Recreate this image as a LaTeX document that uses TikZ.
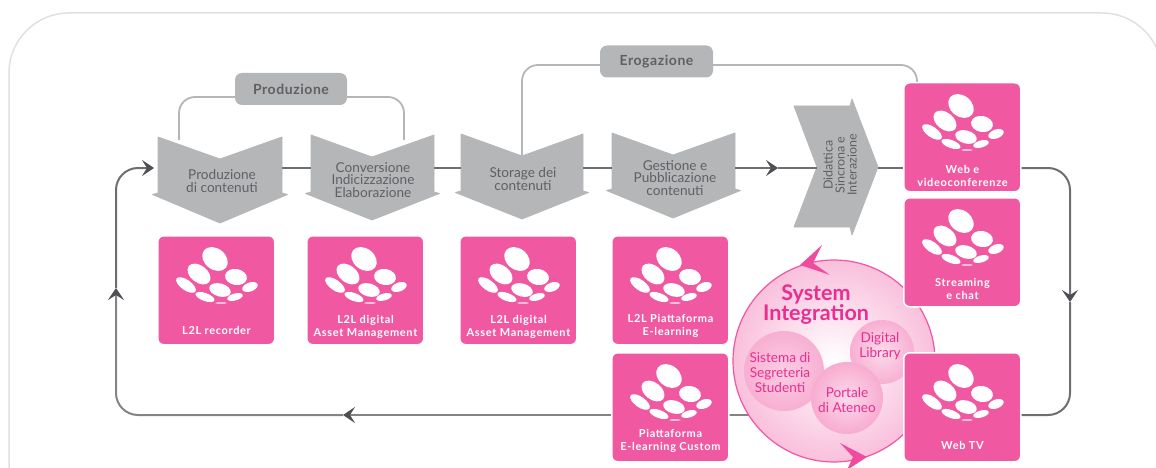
\documentclass[tikz,border=0pt]{standalone}
\usepackage{fontspec}
\setmainfont{Lato}
\usetikzlibrary{arrows.meta,shapes.geometric}
\definecolor{pinkbox}{HTML}{F058A2}
\definecolor{greybox}{HTML}{B5B6B8}
\definecolor{greytext}{HTML}{5F6064}
\definecolor{flowgrey}{HTML}{6D6E71}
\definecolor{tipgrey}{HTML}{4E4F53}
\definecolor{magenta2}{HTML}{EC2C8E}
\tikzset{
  card/.style={fill=pinkbox,draw=white,line width=1.5pt,rounded corners=6pt,anchor=north west,inner sep=0pt},
  cardtext/.style={text=white,font=\fontsize{11}{12.5}\selectfont\bfseries\addfontfeature{LetterSpace=6},align=center,inner sep=0pt},
  chev/.style={fill=greybox,draw=greybox,line width=.8pt,line join=round},
  chevtext/.style={text=greytext,font=\fontsize{13.6}{12.5}\selectfont,align=center,inner sep=0pt},
  group/.style={fill=greybox,rounded corners=7pt,text=greytext,font=\fontsize{14}{16}\selectfont\bfseries\addfontfeature{LetterSpace=4},inner sep=0pt,minimum height=32pt},
  bracket/.style={draw=greybox,line width=1.8pt,rounded corners=16pt},
  flow/.style={draw=flowgrey,line width=2pt,rounded corners=22pt},
  tip/.style={-{Stealth[length=12pt,width=16pt,inset=5pt,color=tipgrey]}},
  sub/.style={circle,inner sep=0pt,draw=none},
  subtext/.style={text=magenta2,font=\fontsize{13.6}{15}\selectfont,align=center,inner sep=0pt},
  pics/logo/.style={code={
    \fill[white] (56,22) ellipse [x radius=14pt,y radius=10.5pt,rotate=-38];
    \fill[white] (40,37) ellipse [x radius=13pt,y radius=8.5pt,rotate=-38];
    \fill[white] (77,40) ellipse [x radius=11pt,y radius=8pt,rotate=-10];
    \fill[white] (27,48) ellipse [x radius=11.5pt,y radius=5.2pt,rotate=-35];
    \fill[white] (61,53) ellipse [x radius=11pt,y radius=6.5pt,rotate=-15];
    \fill[white] (91,50) ellipse [x radius=8pt,y radius=4.5pt,rotate=20];
    \fill[white] (46,60) ellipse [x radius=10pt,y radius=4pt,rotate=-20];
    \fill[white] (76,60) ellipse [x radius=8pt,y radius=3.5pt,rotate=15];
    \fill[white!60!pinkbox] (62,66) ellipse [x radius=6pt,y radius=1pt];
  }}
}
\newcommand{\chevron}[8]{% name, left, mid, right, ytop, ynotch, yshoulder, ybottom
  \fill[chev] (#2,#5) -- (#3,#6) -- (#4,#5) -- (#4,#7) -- ({#4+5.5},{#7+1.5}) -- (#3,#8) -- ({#2-5.5},{#7+1.5}) -- (#2,#7) -- cycle;
  \coordinate (#1w) at (#2,168);
  \coordinate (#1e) at (#4,168);
  \coordinate (#1n) at (#3,#6);
}
\newcommand{\card}[6]{% name,x,y,h,label,labely
  \node[card,minimum width=117pt,minimum height={#4+2}] (#1) at ({#2-2},{#3-2}) {};
  \pic at (#2,#3) {logo};
  \node[cardtext] (#1t) at ({#2+57.5},{#3+#6}) {#5};
}
\begin{document}
\begin{tikzpicture}[x=1pt,y=-1pt]
\useasboundingbox (0,0) rectangle (1156,468);
\clip (0,0) rectangle (1156,468);
\draw[draw=black!12,line width=1.5pt,rounded corners=60pt] (9,13) rectangle (1162,540);

\chevron{c1}{158}{220}{282}{137}{159}{193}{223}
\chevron{c2}{311}{372}{434}{135}{157}{192}{220}
\chevron{c3}{461}{522}{583}{134}{156}{191}{219}
\chevron{c4}{612}{673}{735}{133}{155}{189}{218}

\node[group,minimum width=112pt] (prod) at (291,89) {Produzione};
\node[group,minimum width=113pt] (erog) at (656.5,61.5) {Erogazione};
\coordinate (b1) at (179,140);
\coordinate (b2) at (404,140);
\draw[bracket] (b1) -- (179,97) -- (prod.west |- 0,97);
\draw[bracket] (prod.east |- 0,97) -- (404,97) -- (b2);

\coordinate (a0) at (154,168);
\coordinate (a1) at (778,168);
\coordinate (a2) at (1070,302);
\coordinate (a3) at (343,415);
\coordinate (a4) at (116,288);
\coordinate (d5w) at (817,168);
\coordinate (d5e) at (878,168);

\fill[chev] (794,106) -- (850,106) -- (852,99) -- (878,167) -- (852,235) -- (850,227) -- (794,227) -- (817,167) -- cycle;

\coordinate (w1w) at (905,168);
\coordinate (w1e) at (1021,168);
\coordinate (w3e) at (1021,415);
\coordinate (p5w) at (613,415);
\coordinate (p5e) at (728,415);

\draw[flow] (c1e) -- (c2w);
\draw[flow] (c2e) -- (c3w);
\draw[flow] (c3e) -- (c4w);
\draw[flow,tip] (c4e) -- (a1);
\draw[flow] (a1) -- (d5w);
\draw[flow] (d5e) -- (w1w);
\draw[flow,tip] (w1e) -- (1070,168) -- (a2);
\draw[flow] (a2) -- (1070,415) -- (w3e);
\draw[flow,draw=flowgrey!85,tip] (p5w) -- (a3);
\draw[flow,draw=flowgrey!85,tip] (a3) -- (116,415) -- (a4);
\draw[flow,tip] (a4) -- (116,168) -- (a0);
\draw[flow,draw=flowgrey!85] (w3e) -- (p5e);

\draw[bracket] (c3n) -- (522,65) -- (erog.west |- 0,65);
\coordinate (wtop) at (917,84);
\draw[bracket] (erog.east |- 0,65) -- (917,65) -- (wtop);

\node[chevtext] (c1t) at (222,181) {Produzione\\di contenuti};
\node[chevtext] (c2t) at (373,180) {Conversione\\Indicizzazione\\Elaborazione};
\node[chevtext] (c3t) at (523,179) {Storage dei\\contenuti};
\node[chevtext] (c4t) at (675,178) {Gestione e\\Pubblicazione\\contenuti};
\node[chevtext,font=\fontsize{12.5}{12}\selectfont,rotate=90] (d5t) at (840,165) {Didattica\\Sincrona e\\Interazione};

\shade[inner color=white,outer color=pinkbox!38,draw=magenta2!80,line width=1.2pt] (834,361) circle [radius=101pt];
\node[sub,minimum size=80pt,inner color=pinkbox!30,outer color=pinkbox!48] (s1) at (784,371) {};
\node[sub,minimum size=64pt,inner color=pinkbox!22,outer color=pinkbox!48] (s2) at (882,352) {};
\node[sub,minimum size=72pt,inner color=pinkbox!22,outer color=pinkbox!50] (s3) at (847,398) {};
\node[text=magenta2,font=\fontsize{21.5}{20}\selectfont\bfseries,align=center,inner sep=0pt] (sys) at (816,305) {System\\Integration};
\node[subtext] (s1t) at (780,373) {Sistema di\\Segreteria\\Studenti};
\node[subtext] (s2t) at (880,346) {Digital\\Library};
\node[subtext] (s3t) at (847,400) {Portale\\di Ateneo};
\fill[magenta2!85] (800,265) -- (822,245) -- (813,263) -- (830,275) -- cycle;
\fill[magenta2!85] (867,457) -- (840,443) -- (853,457) -- (847,470) -- cycle;

\card{k1}{159}{237}{107}{L2L recorder}{93}
\card{k2}{308}{237}{107}{L2L digital\\Asset Management}{90}
\card{k3}{461}{237}{107}{L2L digital\\Asset Management}{90}
\card{k4}{613}{237}{107}{L2L Piattaforma\\E-learning}{89}
\card{k5}{613}{354}{107}{Piattaforma\\E-learning Custom}{87}
\card{k6}{905}{84}{107}{Web e\\videoconferenze}{92}
\card{k7}{905}{199}{107}{Streaming\\e chat}{90}
\card{k8}{905}{354}{107}{Web TV}{91}
\end{tikzpicture}
\end{document}
